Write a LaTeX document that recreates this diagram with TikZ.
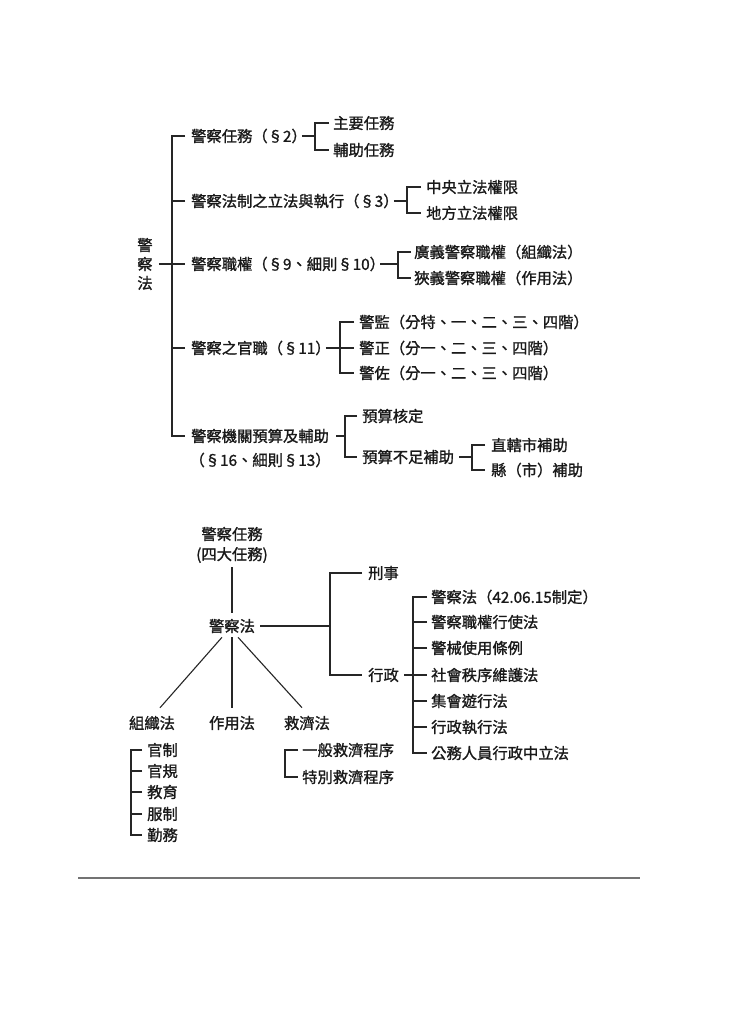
\documentclass[tikz,border=0pt]{standalone}
\usepackage{fontspec}
\setmainfont{Noto Sans CJK TC}[FakeBold=1.2]
\newcommand{\dfs}{\fontsize{15.3}{19}\selectfont}
\tikzset{
  every node/.style={font=\dfs, inner sep=0pt, text=black!90},
  lbl/.style={anchor=west},
  ctr/.style={anchor=center},
  ln/.style={draw=black!85, line width=1.1pt},
}
\begin{document}
\begin{tikzpicture}[x=1pt,y=1pt]
\useasboundingbox[fill=white] (0,0) rectangle (750,-1017);

% ---------------- top tree ----------------
\node[align=center] (root) at (145,-264) {警\\察\\法};
\coordinate (T) at (172,-264);
\node[lbl] (c1) at (191,-136) {警察任務（§2）};
\node[lbl] (c2) at (191,-201) {警察法制之立法與執行（§3）};
\node[lbl] (c3) at (191,-264) {警察職權（§9、細則§10）};
\node[lbl] (c4) at (191,-348) {警察之官職（§11）};
\node[lbl] (c5) at (191,-436) {警察機關預算及輔助};
\node[ctr] (c5b) at ([yshift=-24]c5.center) {（§16、細則§13）};

\draw[ln] ([xshift=-6]c1.west) -| (T) |- ([xshift=-6]c5.west);
\draw[ln] ([xshift=-6]c2.west) -- (c2.west -| T);
\draw[ln] ([xshift=-6]c4.west) -- (c4.west -| T);
\draw[ln] ([xshift=6]root.east) -- ([xshift=-6]c3.west);

% c1 children
\coordinate (b1) at (315,-136);
\node[lbl] (g1) at (333,-123) {主要任務};
\node[lbl] (g2) at (333,-150) {輔助任務};
\draw[ln] ([xshift=-5]c1.east) -- (b1);
\draw[ln] ([xshift=-4]g1.west) -| (b1) |- ([xshift=-4]g2.west);

% c2 children
\coordinate (b2) at (407,-201);
\node[lbl] (h1) at (426,-187) {中央立法權限};
\node[lbl] (h2) at (426,-213) {地方立法權限};
\draw[ln] ([xshift=-5]c2.east) -- (b2);
\draw[ln] ([xshift=-5]h1.west) -| (b2) |- ([xshift=-5]h2.west);

% c3 children
\coordinate (b3) at (398,-264);
\node[lbl] (k1) at (414,-252) {廣義警察職權（組織法）};
\node[lbl] (k2) at (414,-278) {狹義警察職權（作用法）};
\draw[ln] ([xshift=-5]c3.east) -- (b3);
\draw[ln] ([xshift=-3]k1.west) -| (b3) |- ([xshift=-3]k2.west);

% c4 children
\coordinate (b4) at (340,-348);
\node[lbl] (m1) at (359,-322) {警監（分特、一、二、三、四階）};
\node[lbl] (m2) at (359,-348) {警正（分一、二、三、四階）};
\node[lbl] (m3) at (359,-373) {警佐（分一、二、三、四階）};
\draw[ln] ([xshift=-5]c4.east) -- ([xshift=-5]m2.west);
\draw[ln] ([xshift=-5]m1.west) -| (b4) |- ([xshift=-5]m3.west);

% c5 children
\coordinate (b5) at (345,-436);
\node[lbl] (n1) at (362,-416) {預算核定};
\node[lbl] (n2) at (362,-457) {預算不足補助};
\draw[ln] ([xshift=7]c5.east) -- (b5);
\draw[ln] ([xshift=-5]n1.west) -| (b5) |- ([xshift=-5]n2.west);

% n2 children
\coordinate (b6) at (472,-457);
\node[lbl] (p1) at (491,-445) {直轄市補助};
\node[lbl] (p2) at (491,-470) {縣（市）補助};
\draw[ln] ([xshift=5]n2.east) -- (b6);
\draw[ln] ([xshift=-6]p1.west) -| (b6) |- ([xshift=-6]p2.west);

% ---------------- bottom tree ----------------
\node[ctr] (t1) at (232,-534) {警察任務};
\node[ctr] (t2) at (232,-555) {(四大任務)};
\node[ctr] (law) at (232,-626) {警察法};
\draw[ln] ([yshift=-4]t2.south) -- ([yshift=6]law.north);

\coordinate (S) at (330,-626);
\node[lbl] (xs) at (368,-573) {刑事};
\node[lbl] (xz) at (368,-675) {行政};
\draw[ln] ([xshift=5]law.east) -- (S);
\draw[ln] ([xshift=-6]xs.west) -| (S) |- ([xshift=-6]xz.west);

\coordinate (R) at (413,-675);
\node[lbl] (r1) at (431,-597) {警察法（42.06.15制定）};
\node[lbl] (r2) at (431,-622) {警察職權行使法};
\node[lbl] (r3) at (431,-648) {警械使用條例};
\node[lbl] (r4) at (431,-675) {社會秩序維護法};
\node[lbl] (r5) at (431,-701) {集會遊行法};
\node[lbl] (r6) at (431,-727) {行政執行法};
\node[lbl] (r7) at (431,-753) {公務人員行政中立法};
\draw[ln] ([xshift=5]xz.east) -- ([xshift=-4]r4.west);
\draw[ln] ([xshift=-4]r1.west) -| (R) |- ([xshift=-4]r7.west);
\foreach \r in {r2,r3,r5,r6} \draw[ln] ([xshift=-4]\r.west) -- (\r.west -| R);

\node[ctr] (org) at (152,-723) {組織法};
\node[ctr] (act) at (232,-723) {作用法};
\node[ctr] (rel) at (307,-723) {救濟法};
\draw[ln] ([xshift=-10,yshift=-4]law.south) -- ([xshift=8,yshift=8]org.north);
\draw[ln] ([yshift=-4]law.south) -- ([yshift=8]act.north);
\draw[ln] ([xshift=6,yshift=-4]law.south) -- ([xshift=-5,yshift=8]rel.north);

\node[lbl] (o1) at (147,-750) {官制};
\node[lbl] (o2) at (147,-771) {官規};
\node[lbl] (o3) at (147,-792) {教育};
\node[lbl] (o4) at (147,-814) {服制};
\node[lbl] (o5) at (147,-835) {勤務};
\draw[ln] ([xshift=-5]o1.west) -| ([xshift=-16]o5.west) -- ([xshift=-5]o5.west);
\foreach \o in {o2,o3,o4} \draw[ln] ([xshift=-5]\o.west) -- ([xshift=-16]\o.west);

\node[lbl] (q1) at (302,-750) {一般救濟程序};
\node[lbl] (q2) at (302,-777) {特別救濟程序};
\draw[ln] ([xshift=-4]q1.west) -| ([xshift=-17]q2.west) -- ([xshift=-4]q2.west);

% rule
\coordinate (hl1) at (78,-878);
\coordinate (hl2) at (640,-878);
\draw[draw=black!55, line width=1.6pt] (hl1) -- (hl2);
\end{tikzpicture}
\end{document}
